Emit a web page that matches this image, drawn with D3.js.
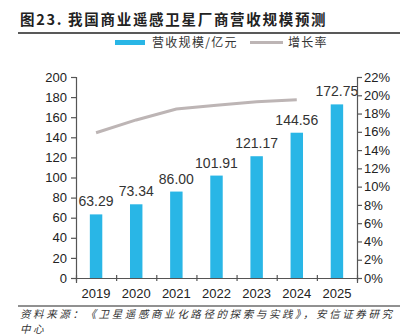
<!DOCTYPE html>
<html>
<head>
<meta charset="utf-8">
<script src="https://cdn.jsdelivr.net/npm/d3@7"></script>
<style>
body { margin: 0; background: #fff; }
svg { display: block; }
</style>
</head>
<body>
<script>
// Chart data
var years = ['2019', '2020', '2021', '2022', '2023', '2024', '2025'];
var revenue = [63.29, 73.34, 86.00, 101.91, 121.17, 144.56, 172.75];
var growthYears = ['2019', '2020', '2021', '2022', '2023', '2024'];
var growth = [15.9, 17.3, 18.5, 18.9, 19.3, 19.5];
var leftTicks = [0, 20, 40, 60, 80, 100, 120, 140, 160, 180, 200];
var rightTicks = [0, 2, 4, 6, 8, 10, 12, 14, 16, 18, 20, 22];

var W = 410, H = 335;
var margin = {top: 77, right: 53, bottom: 57, left: 76};
var width = W - margin.left - margin.right,
    height = H - margin.top - margin.bottom;

var font = '"Liberation Sans", Arial, sans-serif';
var cjk = '"Noto Sans CJK SC", sans-serif';

var svg = d3.select('body').append('svg')
    .attr('width', W)
    .attr('height', H);

// Title
svg.append('text')
    .attr('x', 20).attr('y', 25)
    .attr('font-family', cjk)
    .attr('font-size', 14.5)
    .attr('font-weight', 'bold')
    .attr('letter-spacing', 1.7)
    .attr('fill', '#222')
    .text('图23. 我国商业遥感卫星厂商营收规模预测');
svg.append('line')
    .attr('x1', 18).attr('x2', 400).attr('y1', 33).attr('y2', 33)
    .attr('stroke', '#222').attr('stroke-width', 1.3);

// Scales
var x = d3.scaleBand().domain(years).range([0, width]).paddingInner(0.69).paddingOuter(0.345);
var xPoint = function(d) { return x(d) + x.bandwidth() / 2; };
var y = d3.scaleLinear().domain([0, 200]).range([height, 0]);
var y2 = d3.scaleLinear().domain([0, 22]).range([height, 0]);

var chart = svg.append('g')
    .attr('transform', 'translate(' + margin.left + ',' + margin.top + ')');

// Bars
chart.selectAll('.bar')
    .data(revenue)
    .enter().append('rect')
    .attr('x', function(d, i) { return x(years[i]); })
    .attr('y', function(d) { return y(d); })
    .attr('width', x.bandwidth())
    .attr('height', function(d) { return height - y(d); })
    .attr('fill', '#29B6E6');

// Bar labels
chart.selectAll('.lbl')
    .data(revenue)
    .enter().append('text')
    .attr('x', function(d, i) { return xPoint(years[i]); })
    .attr('y', function(d) { return y(d) - 8; })
    .attr('text-anchor', 'middle')
    .attr('font-family', font)
    .attr('font-size', 14)
    .attr('fill', '#333')
    .text(function(d) { return d.toFixed(2); });

// Growth line
var line = d3.line()
    .x(function(d, i) { return xPoint(growthYears[i]); })
    .y(function(d) { return y2(d); });
chart.append('path')
    .datum(growth)
    .attr('d', line)
    .attr('fill', 'none')
    .attr('stroke', '#BDB5B5')
    .attr('stroke-width', 3);

// Axes
var xAxis = d3.axisBottom(d3.scaleLinear().domain([0, 7]).range([0, width]))
    .tickValues(d3.range(8)).tickFormat('').tickSize(5);
var gx = chart.append('g').attr('transform', 'translate(0,' + height + ')').call(xAxis);
gx.selectAll('.tick line').attr('y1', -3).attr('y2', 3);

var yAxis = d3.axisLeft(y).tickValues(leftTicks).tickSize(5);
var gy = chart.append('g').call(yAxis);

var y2Axis = d3.axisRight(y2).tickValues(rightTicks).tickSize(5)
    .tickFormat(function(d) { return d + '%'; });
var gy2 = chart.append('g').attr('transform', 'translate(' + width + ',0)').call(y2Axis);

[gx, gy, gy2].forEach(function(g) {
    g.select('.domain').attr('stroke', '#555').attr('stroke-width', 1.2);
    g.selectAll('.tick line').attr('stroke', '#555').attr('stroke-width', 1.2);
    g.selectAll('text').attr('font-family', font).attr('font-size', 13).attr('fill', '#222');
});
gy.selectAll('.domain').attr('d', 'M-5,0.5H0.5V' + height);
gy2.selectAll('.domain').attr('d', 'M5,0.5H0.5V' + height);
gy.selectAll('text').attr('x', -9);
gy2.selectAll('text').attr('x', 7);

// Year labels
chart.selectAll('.yr')
    .data(years)
    .enter().append('text')
    .attr('x', function(d) { return xPoint(d); })
    .attr('y', height + 20)
    .attr('text-anchor', 'middle')
    .attr('font-family', font)
    .attr('font-size', 13)
    .attr('fill', '#222')
    .text(function(d) { return d; });

// Legend
var legend = svg.append('g').attr('font-family', cjk).attr('font-size', 12).attr('fill', '#333');
legend.append('rect').attr('x', 115).attr('y', 40).attr('width', 30).attr('height', 5).attr('fill', '#29B6E6');
legend.append('text').attr('x', 152).attr('y', 47).attr('letter-spacing', 1.3).text('营收规模/亿元');
legend.append('line').attr('x1', 250).attr('x2', 283).attr('y1', 42.5).attr('y2', 42.5)
    .attr('stroke', '#BDB5B5').attr('stroke-width', 3);
legend.append('text').attr('x', 288).attr('y', 47).attr('letter-spacing', 1.3).text('增长率');

// Source note
svg.append('line')
    .attr('x1', 18).attr('x2', 400).attr('y1', 306).attr('y2', 306)
    .attr('stroke', '#222').attr('stroke-width', 1);
var src = svg.append('g')
    .attr('font-family', cjk)
    .attr('font-size', 10.5)
    .attr('font-style', 'italic')
    .attr('letter-spacing', 2.6)
    .attr('fill', '#333');
src.append('text').attr('x', 20).attr('y', 318).text('资料来源：《卫星遥感商业化路径的探索与实践》，安信证券研究');
src.append('text').attr('x', 20).attr('y', 333).text('中心');
</script>
</body>
</html>
